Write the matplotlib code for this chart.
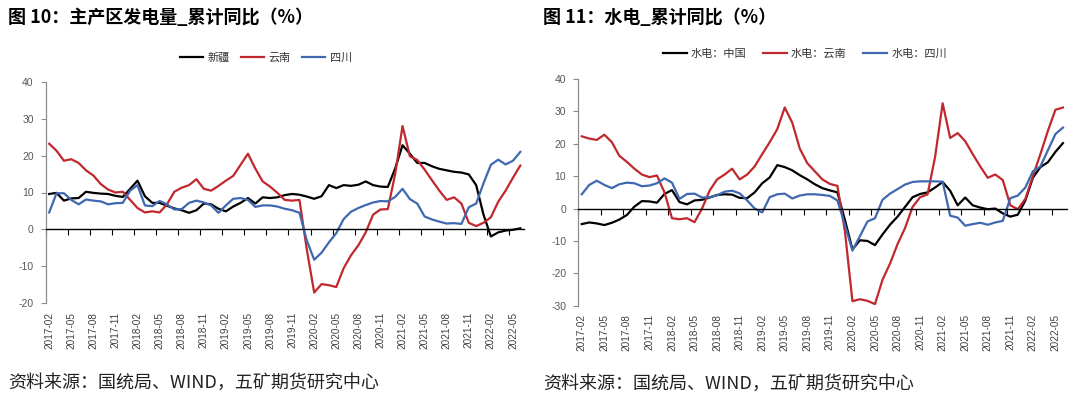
import numpy as np
import pandas as pd
import matplotlib
matplotlib.use('Agg')
import matplotlib.pyplot as plt

plt.rcParams['font.family'] = ['Liberation Sans', 'Noto Sans CJK SC']
plt.rcParams['axes.unicode_minus'] = False

# months 2017-02 .. 2022-06
months = pd.date_range('2017-02-01', periods=65, freq='MS').strftime('%Y-%m').tolist()

# fig 10: generation, cumulative yoy (%)
xinjiang = [9.6, 9.9, 7.8, 8.4, 8.5, 10.2, 9.9, 9.7, 9.6, 9.1, 8.8, 11.0, 13.2, 9.0, 7.2, 7.2,
            6.4, 5.7, 5.2, 4.5, 5.2, 7.0, 6.8, 5.6, 4.9, 6.2, 7.2, 8.5, 7.0, 8.7, 8.5, 8.7,
            9.3, 9.6, 9.4, 8.9, 8.3, 9.0, 12.0, 11.2, 12.0, 11.8, 12.1, 13.0, 12.0, 11.6, 11.5, 16.5,
            22.8, 20.5, 18.0, 18.0, 17.1, 16.4, 16.0, 15.6, 15.4, 14.9, 12.0, 4.0, -1.9, -0.8, -0.3,
            -0.1, 0.3]
yunnan = [23.2, 21.3, 18.6, 19.0, 18.0, 16.0, 14.6, 12.3, 10.8, 10.0, 10.2, 8.0, 5.8, 4.6, 4.9, 4.6,
          6.8, 10.2, 11.3, 12.0, 13.6, 11.0, 10.5, 11.8, 13.2, 14.5, 17.5, 20.5, 16.5, 13.0, 11.6, 9.9,
          8.0, 7.8, 8.0, -5.5, -17.1, -14.8, -15.1, -15.6, -10.5, -7.0, -4.3, -0.8, 4.0, 5.4, 5.5, 15.0,
          28.0, 19.8, 18.8, 16.2, 13.3, 10.5, 8.0, 8.7, 7.0, 1.8, 0.9, 1.8, 3.3, 7.5, 10.5, 14.0, 17.3]
sichuan = [4.6, 9.8, 9.8, 8.0, 6.8, 8.1, 7.8, 7.6, 6.8, 7.1, 7.2, 10.5, 12.0, 6.5, 6.3, 7.7,
           6.8, 5.4, 5.5, 7.2, 7.8, 7.3, 6.5, 4.5, 6.5, 8.3, 8.5, 8.0, 6.1, 6.5, 6.5, 6.2,
           5.6, 5.2, 4.5, -3.0, -8.2, -6.3, -3.5, -1.0, 2.8, 4.8, 5.8, 6.6, 7.3, 7.7, 7.6, 8.8,
           11.0, 8.2, 7.0, 3.5, 2.7, 2.1, 1.6, 1.7, 1.5, 6.0, 7.0, 12.5, 17.5, 18.9, 17.6, 18.6, 21.0]

# fig 11: hydro, cumulative yoy (%)
hydro_china = [-4.8, -4.3, -4.6, -5.1, -4.4, -3.4, -2.0, 0.6, 2.3, 2.2, 1.8, 4.5, 5.7, 2.0, 1.3, 2.5,
               2.7, 3.4, 4.2, 4.4, 4.3, 3.3, 3.2, 5.0, 7.8, 9.6, 13.4, 12.8, 11.8, 10.3, 9.0, 7.5,
               6.3, 5.6, 5.0, -3.5, -12.6, -9.8, -10.0, -11.3, -8.0, -5.0, -2.5, 0.5, 3.5, 4.5, 5.0, 6.5,
               8.2, 5.5, 1.0, 3.4, 1.0, 0.3, -0.2, 0.0, -1.5, -2.5, -1.9, 2.5, 9.5, 12.8, 14.3, 17.5, 20.2]
hydro_yunnan = [22.3, 21.6, 21.2, 22.8, 20.5, 16.3, 14.4, 12.3, 10.5, 9.7, 10.2, 5.0, -3.0, -3.3, -3.0, -4.2,
                0.0, 5.5, 9.0, 10.5, 12.3, 9.0, 10.5, 13.0, 16.8, 20.5, 24.5, 31.2, 26.5, 18.5, 14.0, 11.5,
                9.0, 7.6, 7.0, -7.0, -28.6, -28.0, -28.5, -29.5, -22.0, -17.0, -11.0, -6.0, 0.5, 3.5, 4.4, 16.0,
                32.5, 21.8, 23.3, 20.8, 16.8, 13.0, 9.5, 10.5, 8.8, 1.0, -0.2, 3.0, 10.0, 16.8, 24.0, 30.5, 31.2]
hydro_sichuan = [4.4, 7.3, 8.6, 7.3, 6.3, 7.5, 8.0, 7.8, 6.9, 7.1, 7.8, 9.3, 8.0, 3.0, 4.5, 4.6,
                 3.4, 3.5, 4.1, 5.2, 5.5, 4.7, 2.5, 0.0, -1.2, 3.5, 4.4, 4.6, 3.1, 4.0, 4.4, 4.4,
                 4.2, 3.9, 2.5, -5.0, -13.0, -8.5, -4.0, -3.0, 2.7, 4.6, 6.0, 7.4, 8.2, 8.4, 8.4, 8.4,
                 8.3, -2.2, -2.8, -5.3, -4.8, -4.4, -5.0, -4.3, -3.8, 3.2, 4.0, 6.5, 11.5, 13.0, 18.0, 23.0, 25.0]

RED = '#C0282D'
BLUE = '#3F68B0'
BLACK = '#000000'

x = np.arange(len(months))
label_pos = x[::3][:22]
labels = [months[i] for i in label_pos]

fig = plt.figure(figsize=(10.8, 4.08), dpi=100)
W, H = 1080.0, 408.0


def px_axes(left, top, right, bottom):
    return fig.add_axes([left / W, 1 - bottom / H, (right - left) / W, (bottom - top) / H])


def style_axes(ax, ylim, yticks):
    ax.set_xlim(-0.5, len(months) - 0.5)
    ax.set_ylim(*ylim)
    ax.set_yticks(yticks)
    for s in ['top', 'right']:
        ax.spines[s].set_visible(False)
    ax.spines['left'].set_color('#8c8c8c')
    ax.spines['left'].set_linewidth(0.9)
    ax.spines['bottom'].set_position(('data', 0))
    ax.spines['bottom'].set_color('black')
    ax.spines['bottom'].set_linewidth(1.0)
    ax.set_xticks(label_pos - 0.5)
    ax.tick_params(axis='x', direction='out', length=4, width=0.8, color='black', labelbottom=False)
    ax.tick_params(axis='y', direction='out', length=3.5, width=0.8, color='#8c8c8c',
                   labelcolor='#595959', labelsize=7.5, pad=5)
    sec = ax.secondary_xaxis(0.0)
    sec.set_xticks(label_pos, labels=labels)
    sec.tick_params(axis='x', length=0, pad=6, labelsize=7.2, labelcolor='#404040', labelrotation=90)
    for s in sec.spines.values():
        s.set_visible(False)


# left chart
ax1 = px_axes(45.5, 81.7, 524, 303.3)
ax1.plot(x, xinjiang, color=BLACK, lw=1.6, label='新疆')
ax1.plot(x, yunnan, color=RED, lw=1.6, label='云南')
ax1.plot(x, sichuan, color=BLUE, lw=1.6, label='四川')
style_axes(ax1, (-20, 40), [-20, -10, 0, 10, 20, 30, 40])
ax1.legend(loc='center', bbox_to_anchor=(266 / W, 1 - 58 / H), bbox_transform=fig.transFigure,
           ncol=3, frameon=False, fontsize=8, handlelength=2.1, handletextpad=0.4,
           columnspacing=1.0, labelcolor='#333333')

# right chart
ax2 = px_axes(578, 79, 1066.7, 305.7)
ax2.plot(x, hydro_china, color=BLACK, lw=1.6, label='水电：中国')
ax2.plot(x, hydro_yunnan, color=RED, lw=1.6, label='水电：云南')
ax2.plot(x, hydro_sichuan, color=BLUE, lw=1.6, label='水电：四川')
style_axes(ax2, (-30, 40), [-30, -20, -10, 0, 10, 20, 30, 40])
ax2.legend(loc='center', bbox_to_anchor=(805 / W, 1 - 53.5 / H), bbox_transform=fig.transFigure,
           ncol=3, frameon=False, fontsize=8, handlelength=2.1, handletextpad=0.4,
           columnspacing=1.5, labelcolor='#333333')

title_font = ['Noto Sans CJK SC', 'DejaVu Sans']
fig.text(8 / W, 1 - 17.5 / H, '图 10：主产区发电量_累计同比（%）', fontsize=13, fontweight='bold',
         ha='left', va='center', family=title_font)
fig.text(543 / W, 1 - 17.5 / H, '图 11：水电_累计同比（%）', fontsize=13, fontweight='bold',
         ha='left', va='center', family=title_font)
fig.text(8 / W, 1 - 383 / H, '资料来源：国统局、WIND，五矿期货研究中心', fontsize=13,
         ha='left', va='center', color='#222222', family=title_font)
fig.text(543 / W, 1 - 384 / H, '资料来源：国统局、WIND，五矿期货研究中心', fontsize=13,
         ha='left', va='center', color='#222222', family=title_font)

fig.savefig('out.png', dpi=100)
